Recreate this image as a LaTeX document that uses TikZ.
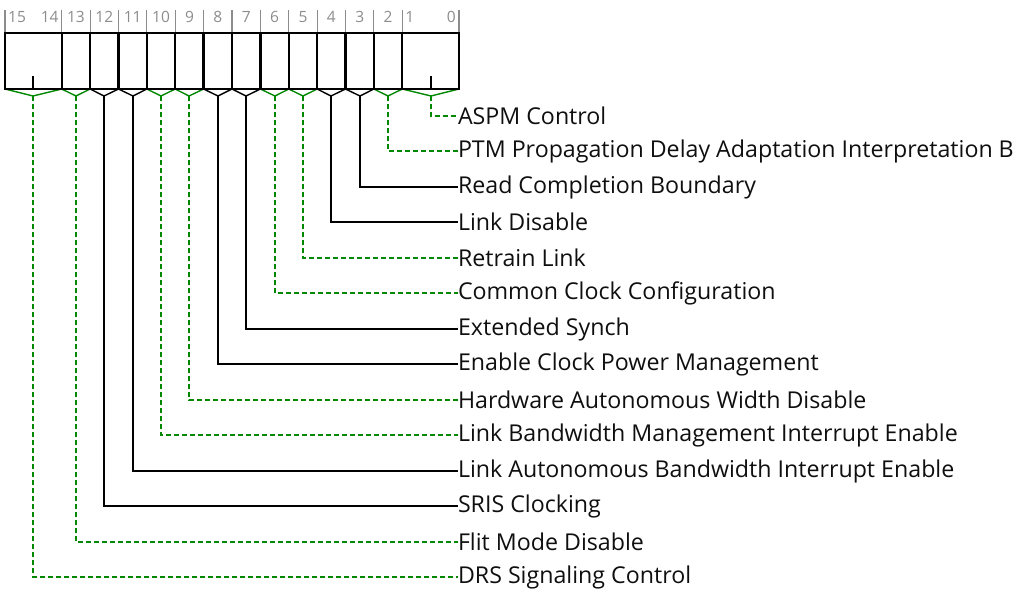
\documentclass[tikz,border=0pt]{standalone}
\usepackage{fontspec}
\setmainfont{Open Sans}
\usetikzlibrary{calc}
\definecolor{grn}{RGB}{0,136,0}
\definecolor{tickgray}{RGB}{140,140,140}
\definecolor{txt}{RGB}{15,15,15}
\begin{document}
\begin{tikzpicture}[x=1pt,y=-1pt,
  field/.style={draw=black,line width=2.4pt,inner sep=0pt,outer sep=0pt,minimum height=56pt,anchor=north west},
  gl/.style={draw=grn,line width=1.4pt,dash pattern=on 5pt off 3pt},
  glv/.style={draw=grn,line width=1.4pt},
  bl/.style={draw=black,line width=1.4pt},
  blv/.style={draw=black,line width=1.4pt},
  lbl/.style={anchor=west,inner sep=0pt,outer sep=0pt,text=txt,font=\fontsize{23.2}{27}\selectfont},
  num/.style={inner sep=0pt,text=tickgray,font=\fontsize{15.5}{18}\selectfont},
  tick/.style={draw=tickgray,line width=1.2pt}]
\useasboundingbox (0,0) rectangle (1015,592);
\foreach \a/\b/\st/\i/\txt in {
  14/16/g/0/ASPM Control,
  13/14/g/1/PTM Propagation Delay Adaptation Interpretation B,
  12/13/b/2/Read Completion Boundary,
  11/12/b/3/Link Disable,
  10/11/g/4/Retrain Link,
  9/10/g/5/Common Clock Configuration,
  8/9/b/6/Extended Synch,
  7/8/b/7/Enable Clock Power Management,
  6/7/g/8/Hardware Autonomous Width Disable,
  5/6/g/9/Link Bandwidth Management Interrupt Enable,
  4/5/b/10/Link Autonomous Bandwidth Interrupt Enable,
  3/4/b/11/SRIS Clocking,
  2/3/g/12/Flit Mode Disable,
  0/2/g/13/DRS Signaling Control}{
  \pgfmathsetmacro\xl{5+28.375*\a}
  \pgfmathsetmacro\fw{28.375*(\b-\a)}
  \pgfmathsetmacro\xc{round(5+28.375*(\a+\b)/2)}
  \pgfmathsetmacro\yl{floor(116+35.5*\i)}
  \node[field,minimum width=\fw pt] (f\i) at (\xl,33) {};
  \node[lbl] (l\i) at (458,\yl) {\txt};
  \coordinate (v\i) at (\xc,96);
  \draw[\st lv,line join=miter] (f\i.south west) -- (v\i) -- (f\i.south east);
  \draw[\st l] (v\i) |- (l\i.west);
  \draw[tick] (f\i.north west) -- ++(0,-23);
}
\draw[tick] (f0.north east) -- ++(0,-23);
% internal ticks of two-bit fields
\draw[line width=1.4pt] (v0|-f0.south) -- ++(0,-13);
\draw[line width=1.4pt] (v13|-f13.south) -- ++(0,-13);
% redraw boxes on top
\foreach \i in {0,...,13}{\draw[line width=2.4pt] (f\i.south west) rectangle (f\i.north east);}
% bit numbers
\node[num,anchor=west] (n15) at ($(f13.north west)+(3,-16)$) {15};
\node[num,anchor=east] (n14) at ($(f13.north east)+(-3,-16)$) {14};
\node[num,anchor=west] (n1) at ($(f0.north west)+(3,-16)$) {1};
\node[num,anchor=east] (n0) at ($(f0.north east)+(-3,-16)$) {0};
\foreach \i/\n in {12/13,11/12,10/11,9/10,8/9,7/8,6/7,5/6,4/5,3/4,2/3,1/2}{
  \node[num] (n\n) at ($(f\i.north)+(0,-16)$) {\n};
}
\end{tikzpicture}
\end{document}
